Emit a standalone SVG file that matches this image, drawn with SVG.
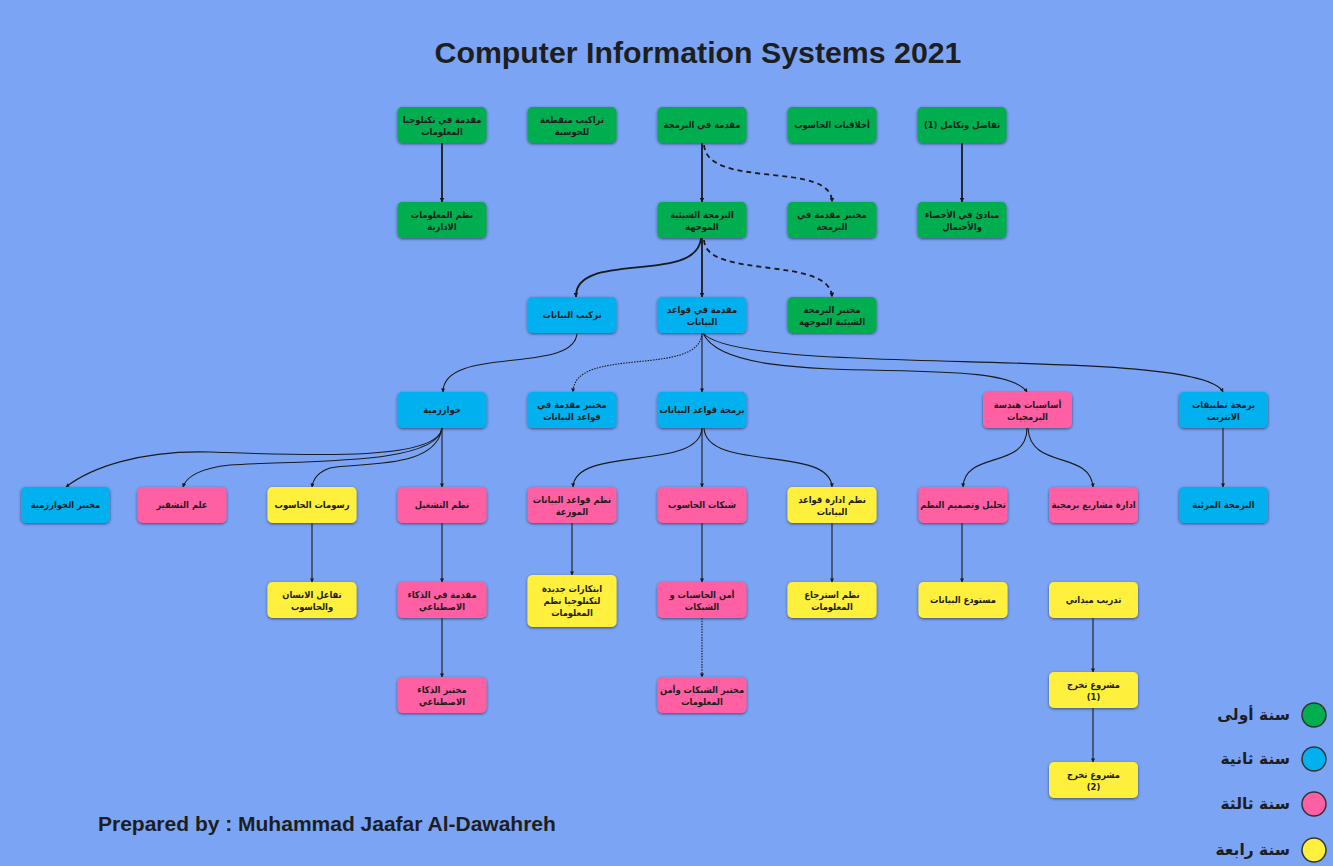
<svg xmlns="http://www.w3.org/2000/svg" width="1333" height="866" viewBox="0 0 1333 866">
<defs>
<filter id="sh" x="-20%" y="-30%" width="140%" height="160%">
<feDropShadow dx="0" dy="1" stdDeviation="1.6" flood-color="#2a2a50" flood-opacity="0.75"/>
</filter>
<marker id="ab" viewBox="0 0 10 10" refX="9" refY="5" markerWidth="5" markerHeight="5" orient="auto-start-reverse" markerUnits="userSpaceOnUse">
<path d="M0,0 L10,5 L0,10 z" fill="#1a1a1a"/>
</marker>
<marker id="as" viewBox="0 0 10 10" refX="9" refY="5" markerWidth="4" markerHeight="4" orient="auto-start-reverse" markerUnits="userSpaceOnUse">
<path d="M0,0 L10,5 L0,10 z" fill="#1a1a1a"/>
</marker>
</defs>
<style>
text{font-family:"DejaVu Sans","Noto Sans",sans-serif;font-weight:bold;fill:#1e1e1e}
.t{font-family:"DejaVu Sans Condensed","DejaVu Sans",sans-serif;font-size:9.3px;text-anchor:middle;direction:rtl}
rect.n{filter:url(#sh)}
.g{fill:#00ad4f}
.bl{fill:#00b0ef}
.p{fill:#ff5fa3}
.y{fill:#fff03e}
.c path{fill:none;stroke:#1a1a1a}
.k{stroke-width:1.8;marker-end:url(#ab)}
.f{stroke-width:1.1;marker-end:url(#as)}
.d{stroke-dasharray:5 4}
.o{stroke-dasharray:1.5 1.2}
.title{font-family:"Liberation Sans",Arial,sans-serif;font-size:30.3px;text-anchor:middle}
.foot{font-family:"Liberation Sans",Arial,sans-serif;font-size:21px}
.lg{font-size:15.5px;text-anchor:start;direction:rtl}
.lc{stroke:#333;stroke-width:1.5}
</style>
<rect width="1333" height="866" fill="#7ba5f4"/>
<text class="title" x="698" y="63">Computer Information Systems 2021</text>
<text class="foot" x="98" y="831">Prepared by : Muhammad Jaafar Al-Dawahreh</text>

<g id="connectors" class="c">
<path class="k" d="M442,143 L442,202"/>
<path class="k" d="M702,143 L702,202"/>
<path class="k d" d="M704,145 C708,190 832,160 832,202"/>
<path class="k" d="M962,143 L962,202"/>
<path class="k" d="M702,238 L702,297"/>
<path class="k" d="M701,238 C698,285 574,250 576,297"/>
<path class="k d" d="M704,240 C706,280 830,255 832,297"/>
<path class="f" d="M702,333 L702,392"/>
<path class="f" d="M577,333 C575,375 443,345 443,392"/>
<path class="f o" d="M702,333 C700,378 574,345 573,392"/>
<path class="f" d="M703,333 C730,395 1000,350 1027,392"/>
<path class="f" d="M703,333 C740,378 1200,345 1223,392"/>
<path class="f" d="M442,428 C438,462 300,455 210,452 C140,450 90,468 66,487"/>
<path class="f" d="M442,428 C437,466 300,460 230,465 C200,468 186,477 183,487"/>
<path class="f" d="M442,428 C436,470 360,462 330,468 C318,472 313,480 312,487"/>
<path class="f" d="M442,428 L442,487"/>
<path class="f" d="M702,428 C700,472 575,445 573,487"/>
<path class="f" d="M702,428 L702,487"/>
<path class="f" d="M704,428 C706,472 830,445 832,487"/>
<path class="f" d="M1027,428 C1027,470 965,450 963,487"/>
<path class="f" d="M1028,428 C1030,470 1090,450 1093,487"/>
<path class="f" d="M1223,428 L1223,487"/>
<path class="f" d="M312,523 L312,582"/>
<path class="f" d="M442,523 L442,582"/>
<path class="f" d="M572,523 L572,575"/>
<path class="f" d="M702,523 L702,582"/>
<path class="f" d="M832,523 L832,582"/>
<path class="f" d="M962,523 L962,582"/>
<path class="f" d="M442,618 L442,677"/>
<path class="f o" d="M702,618 L702,677"/>
<path class="f" d="M1093,618 L1093,672"/>
<path class="f" d="M1093,708 L1093,762"/>
</g>

<g id="n1"><rect class="n g" x="397.5" y="107" width="89" height="36" rx="5"/><text class="t" x="442" y="123">مقدمة في تكنلوجيا</text><text class="t" x="442" y="134.5">المعلومات</text></g>
<g id="n2"><rect class="n g" x="527.5" y="107" width="89" height="36" rx="5"/><text class="t" x="572" y="123">تراكيب متقطعة</text><text class="t" x="572" y="134.5">للحوسبة</text></g>
<g id="n3"><rect class="n g" x="657.5" y="107" width="89" height="36" rx="5"/><text class="t" x="702" y="128">مقدمة في البرمجة</text></g>
<g id="n4"><rect class="n g" x="787.5" y="107" width="89" height="36" rx="5"/><text class="t" x="832" y="128">أخلاقيات الحاسوب</text></g>
<g id="n5"><rect class="n g" x="917.5" y="107" width="89" height="36" rx="5"/><text class="t" x="962" y="128">تفاضل وتكامل (1)</text></g>

<g id="n6"><rect class="n g" x="397.5" y="202" width="89" height="36" rx="5"/><text class="t" x="442" y="218">نظم المعلومات</text><text class="t" x="442" y="229.5">الادارية</text></g>
<g id="n7"><rect class="n g" x="657.5" y="202" width="89" height="36" rx="5"/><text class="t" x="702" y="218">البرمجة الشيئية</text><text class="t" x="702" y="229.5">الموجهة</text></g>
<g id="n8"><rect class="n g" x="787.5" y="202" width="89" height="36" rx="5"/><text class="t" x="832" y="218">مختبر مقدمة في</text><text class="t" x="832" y="229.5">البرمجة</text></g>
<g id="n9"><rect class="n g" x="917.5" y="202" width="89" height="36" rx="5"/><text class="t" x="962" y="218">مبادئ في الأحصاء</text><text class="t" x="962" y="229.5">والأحتمال</text></g>

<g id="n10"><rect class="n bl" x="527.5" y="297" width="89" height="36" rx="5"/><text class="t" x="572" y="318">تركيب البيانات</text></g>
<g id="n11"><rect class="n bl" x="657.5" y="297" width="89" height="36" rx="5"/><text class="t" x="702" y="313">مقدمة في قواعد</text><text class="t" x="702" y="324.5">البيانات</text></g>
<g id="n12"><rect class="n g" x="787.5" y="297" width="89" height="36" rx="5"/><text class="t" x="832" y="313">مختبر البرمجة</text><text class="t" x="832" y="324.5">الشيئية الموجهة</text></g>

<g id="n13"><rect class="n bl" x="397.5" y="392" width="89" height="36" rx="5"/><text class="t" x="442" y="413">خوارزمية</text></g>
<g id="n14"><rect class="n bl" x="527.5" y="392" width="89" height="36" rx="5"/><text class="t" x="572" y="408">مختبر مقدمة في</text><text class="t" x="572" y="419.5">قواعد البيانات</text></g>
<g id="n15"><rect class="n bl" x="657.5" y="392" width="89" height="36" rx="5"/><text class="t" x="702" y="413">برمجة قواعد البيانات</text></g>
<g id="n16"><rect class="n p" x="983" y="392" width="89" height="36" rx="5"/><text class="t" x="1027.5" y="408">أساسيات هندسة</text><text class="t" x="1027.5" y="419.5">البرمجيات</text></g>
<g id="n17"><rect class="n bl" x="1179" y="392" width="89" height="36" rx="5"/><text class="t" x="1223.5" y="408">برمجة تطبيقات</text><text class="t" x="1223.5" y="419.5">الانترنت</text></g>

<g id="n18"><rect class="n bl" x="21" y="487" width="89" height="36" rx="5"/><text class="t" x="65.5" y="508">مختبر الخوارزمية</text></g>
<g id="n19"><rect class="n p" x="137.5" y="487" width="89" height="36" rx="5"/><text class="t" x="182" y="508">علم التشفير</text></g>
<g id="n20"><rect class="n y" x="267.5" y="487" width="89" height="36" rx="5"/><text class="t" x="312" y="508">رسومات الحاسوب</text></g>
<g id="n21"><rect class="n p" x="397.5" y="487" width="89" height="36" rx="5"/><text class="t" x="442" y="508">نظم التشغيل</text></g>
<g id="n22"><rect class="n p" x="527.5" y="487" width="89" height="36" rx="5"/><text class="t" x="572" y="503">نظم قواعد البيانات</text><text class="t" x="572" y="514.5">الموزعة</text></g>
<g id="n23"><rect class="n p" x="657.5" y="487" width="89" height="36" rx="5"/><text class="t" x="702" y="508">شبكات الحاسوب</text></g>
<g id="n24"><rect class="n y" x="787.5" y="487" width="89" height="36" rx="5"/><text class="t" x="832" y="503">نظم ادارة قواعد</text><text class="t" x="832" y="514.5">البيانات</text></g>
<g id="n25"><rect class="n p" x="918.5" y="487" width="89" height="36" rx="5"/><text class="t" x="963" y="508">تحليل وتصميم النظم</text></g>
<g id="n26"><rect class="n p" x="1049" y="487" width="89" height="36" rx="5"/><text class="t" x="1093.5" y="508">ادارة مشاريع برمجية</text></g>
<g id="n27"><rect class="n bl" x="1179" y="487" width="89" height="36" rx="5"/><text class="t" x="1223.5" y="508">البرمجة المرئية</text></g>

<g id="n28"><rect class="n y" x="267.5" y="582" width="89" height="36" rx="5"/><text class="t" x="312" y="598">تفاعل الانسان</text><text class="t" x="312" y="609.5">والحاسوب</text></g>
<g id="n29"><rect class="n p" x="397.5" y="582" width="89" height="36" rx="5"/><text class="t" x="442" y="598">مقدمة في الذكاء</text><text class="t" x="442" y="609.5">الاصطناعي</text></g>
<g id="n30"><rect class="n y" x="527.5" y="575" width="89" height="52" rx="5"/><text class="t" x="572" y="592">ابتكارات جديدة</text><text class="t" x="572" y="604">لتكنلوجيا نظم</text><text class="t" x="572" y="616">المعلومات</text></g>
<g id="n31"><rect class="n p" x="657.5" y="582" width="89" height="36" rx="5"/><text class="t" x="702" y="598">أمن الحاسبات و</text><text class="t" x="702" y="609.5">الشبكات</text></g>
<g id="n32"><rect class="n y" x="787.5" y="582" width="89" height="36" rx="5"/><text class="t" x="832" y="598">نظم استرجاع</text><text class="t" x="832" y="609.5">المعلومات</text></g>
<g id="n33"><rect class="n y" x="918.5" y="582" width="89" height="36" rx="5"/><text class="t" x="963" y="603">مستودع البيانات</text></g>
<g id="n34"><rect class="n y" x="1049" y="582" width="89" height="36" rx="5"/><text class="t" x="1093.5" y="603">تدريب ميداني</text></g>

<g id="n35"><rect class="n p" x="397.5" y="677" width="89" height="36" rx="5"/><text class="t" x="442" y="693">مختبر الذكاء</text><text class="t" x="442" y="704.5">الاصطناعي</text></g>
<g id="n36"><rect class="n p" x="657.5" y="677" width="89" height="36" rx="5"/><text class="t" x="702" y="693">مختبر الشبكات وأمن</text><text class="t" x="702" y="704.5">المعلومات</text></g>
<g id="n37"><rect class="n y" x="1049" y="672" width="89" height="36" rx="5"/><text class="t" x="1093.5" y="688">مشروع تخرج</text><text class="t" x="1093.5" y="699.5">(1)</text></g>
<g id="n38"><rect class="n y" x="1049" y="762" width="89" height="36" rx="5"/><text class="t" x="1093.5" y="778">مشروع تخرج</text><text class="t" x="1093.5" y="789.5">(2)</text></g>

<g id="legend">
<circle class="lc" cx="1314" cy="715" r="12" fill="#00ad4f"/><text class="lg" x="1290" y="720">سنة أولى</text>
<circle class="lc" cx="1314" cy="759" r="12" fill="#00b0ef"/><text class="lg" x="1290" y="764">سنة ثانية</text>
<circle class="lc" cx="1314" cy="804" r="12" fill="#ff5fa3"/><text class="lg" x="1290" y="809">سنة ثالثة</text>
<circle class="lc" cx="1314" cy="850" r="12" fill="#fff03e"/><text class="lg" x="1290" y="855">سنة رابعة</text>
</g>
</svg>
